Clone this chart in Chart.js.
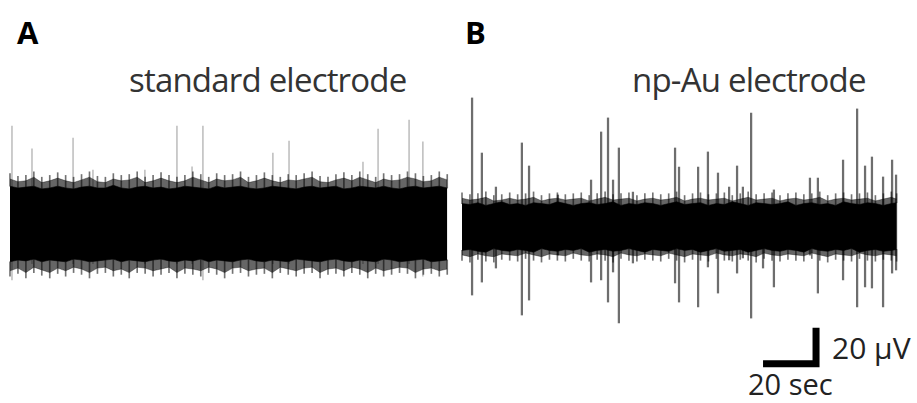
<!DOCTYPE html>
<html>
<head>
<meta charset="utf-8">
<script src="https://cdn.jsdelivr.net/npm/chart.js@4.4.0/dist/chart.umd.min.js"></script>
<style>
  body { margin: 0; background: #fff; width: 917px; height: 403px; overflow: hidden; position: relative; font-family: "Open Sans", sans-serif; }
  canvas { position: absolute; }
  .lbl { position: absolute; line-height: 1; white-space: nowrap; }
  .panel { font-weight: bold; font-size: 31px; color: #000; }
  .title { font-size: 33px; letter-spacing: -0.8px; color: #333; }
  .scale { font-size: 30px; color: #222; }
</style>
</head>
<body>
<div class="lbl panel" style="left:17px; top:17px;">A</div>
<div class="lbl panel" style="left:465px; top:17px;">B</div>
<div class="lbl title" style="left:129px; top:63px;">standard electrode</div>
<div class="lbl title" style="left:632px; top:63px;">np-Au electrode</div>
<div class="lbl scale" style="left:832px; top:333px;">20 µV</div>
<div class="lbl scale" style="left:748px; top:369px; font-size:29px;">20 sec</div>

<canvas id="chartA" width="458" height="300" style="left:0; top:80px;"></canvas>
<canvas id="chartB" width="459" height="300" style="left:458px; top:80px;"></canvas>

<script>
// Time samples (sec) for the noise envelope
var timesA = [0,3,6,9,12,15,18,21,24,27,30,33,36,39,42,45,48,51,54,57,60,63,66,69,72,75,78,81,84,87,90,93,96,99,102,105,108,111,114,117,120,123,126,129,132,135,138,141,144,147,150,153,156,159,162,165];
var timesB = [0,3,6,9,12,15,18,21,24,27,30,33,36,39,42,45,48,51,54,57,60,63,66,69,72,75,78,81,84,87,90,93,96,99,102,105,108,111,114,117,120,123,126,129,132,135,138,141,144,147,150,153,156,159,162,164];

// Panel A - standard electrode, noise band (uV)
var coreHiA = [21,20,20.5,21,19.5,20,21,20,19.5,20.5,21,20,20,21.5,20,19.5,20.5,21,20,20.5,19.5,20,21,20.5,20,19.5,21,20,20.5,21,20,19.5,20,21,20.5,20,19.5,20.5,21,20,20.5,21,19.5,20,21,20.5,20,21,20,19.5,20.5,21,20,20.5,21,20];
var coreLoA = [-21,-20,-20.5,-19.5,-21,-20,-20.5,-21,-19.5,-20,-21,-20.5,-20,-19.5,-21,-20,-20.5,-21,-20,-19.5,-20.5,-21,-20,-20.5,-19.5,-21,-20,-20.5,-21,-20,-19.5,-20.5,-21,-20,-20.5,-21,-19.5,-20,-20.5,-21,-20,-19.5,-20.5,-21,-20,-20.5,-21,-19.5,-20,-21,-20.5,-20,-19.5,-21,-20.5,-20];
var fuzzHiA = [25,23.5,24,26,23,24,25.5,24,23,24.5,26,23.5,23,25,24,24.5,26,23,24,25.5,24,23,24,26,24.5,23,25,24,24.5,26,23,24,25.5,24,23,24.5,24,25,26,23.5,23,24.5,25.5,24,26,24.5,23,25,24,24.5,26,25,23.5,24,26,24.5];
var fuzzLoA = [-26,-24.5,-27,-24,-25.5,-27,-24.5,-26,-24,-25,-27,-24.5,-24,-26,-25,-27,-24,-24.5,-26,-25,-24,-27,-24.5,-25,-26,-24,-25,-27,-24.5,-24,-26,-25,-24.5,-27,-24,-25,-26,-24.5,-24,-27,-25,-24.5,-26,-24,-25,-27,-24.5,-26,-25,-24,-24.5,-27,-25,-24.5,-26,-25];

// Panel A spikes
var spikeTA  = [0.75,8.3,23.8,31.3,50.9,63,68.7,72.8,99.2,105.3,133.2,138.9,150.6,155.8];
var spikeHiA = [54.4,41.7,47.8,30,30,54.4,31.7,54.4,39.4,46.1,34.4,52.8,57.8,45.6];
var spikeLoA = [-31,-22,-22,-22,-22,-22,-22,-31,-22,-22,-22,-22,-22,-29];

// Panel B - np-Au electrode, noise band (uV)
var coreHiB = [13,12.5,13.5,12,13,14,12.5,13,12,13.5,13,12.5,14,13,12,13,13.5,12.5,13,14,12,13,12.5,13.5,13,12,13,14,12.5,13,13.5,12,13,12.5,14,13,12,13.5,13,12.5,13,14,12,13,13.5,12.5,13,12,14,13,12.5,13.5,13,12,13,13.5];
var coreLoB = [-13,-12.5,-13.5,-14,-12,-13,-13.5,-12.5,-13,-14,-12,-13,-13.5,-12.5,-13,-12,-14,-13,-12.5,-13.5,-13,-12,-13,-14,-12.5,-13,-13.5,-12,-13,-12.5,-14,-13,-12,-13.5,-13,-12.5,-14,-13,-12,-13,-13.5,-12.5,-13,-14,-12,-13,-13.5,-12.5,-13,-12,-14,-13,-12.5,-13.5,-13,-12.5];
var fuzzHiB = [16,15,15.5,16.5,14.5,15,16,15,15.5,16.5,14.5,15.5,16,15,15.5,16,14.5,15.5,16.5,15,15.5,16,14.5,15.5,16,15,15.5,16.5,14.5,15.5,16,15,15.5,16,14.5,15.5,16.5,15,15.5,16,14.5,15.5,16,15,15.5,16.5,14.5,15.5,16,15,15.5,16,14.5,15.5,16.5,15.5];
var fuzzLoB = [-15.5,-16.5,-15,-16,-16.5,-15,-15.5,-16,-14.5,-15.5,-16.5,-15,-15.5,-16,-14.5,-15.5,-16,-15,-15.5,-16.5,-14.5,-15.5,-16,-15,-15.5,-16,-14.5,-15.5,-16.5,-15,-15.5,-16,-14.5,-15.5,-16,-15,-15.5,-16.5,-14.5,-15.5,-16,-15,-15.5,-16,-14.5,-15.5,-16.5,-15,-15.5,-16,-14.5,-15.5,-16,-15,-15.5,-16];

// Panel B spikes
var spikeTB  = [3.8,7.5,12.8,22.6,25.3,36.2,48.7,52.5,55.1,57.0,59.2,64.5,80.4,81.9,89.1,92.8,96.6,100.8,103.8,106.0,109.1,113.6,117.7,131.3,134.3,143.8,149.1,152.1,154.7,158.9,162.3,163.8];
var spikeHiB = [71.7,41.1,22.2,46.7,33.9,17.8,26.1,52.8,60.6,26.1,43.9,19.4,43.9,33.3,33.3,41.7,30,22.2,33.9,22.2,63.3,6.7,20.6,27.2,27.2,37.2,65.6,33.9,38.9,27.8,37.2,28.9];
var spikeLoB = [-37.8,-30.6,-22.8,-48.9,-40.6,-15.6,-30.6,-29.4,-41.7,-25,-53.3,-20,-31.1,-41.7,-44.4,-22.2,-36.7,-18.3,-25.6,-17.2,-50.6,-22.8,-33.3,-15.6,-36.7,-29.4,-44.4,-33.3,-33.9,-44.4,-25.6,-23.9];

// Scale bar: 20 sec x 20 uV (in panel B units)
var scaleBarX = [113.6, 133.6, 133.6];
var scaleBarY = [-76, -76, -56];

function pts(xs, ys) {
  return xs.map(function (x, i) { return { x: x, y: ys[i] }; });
}

function bandSet(xs, ys, color, order) {
  return {
    type: "line",
    data: pts(xs, ys),
    borderColor: color,
    backgroundColor: color,
    borderWidth: 0.6,
    pointRadius: 0,
    tension: 0,
    fill: "origin",
    order: order,
  };
}

// thin hairs from the core edge up to the fuzz tips
function hairSet(xs, from, to, order) {
  return {
    type: "bar",
    data: xs.map(function (x, i) { return { x: x, y: [from[i], to[i]] }; }),
    backgroundColor: "rgba(0,0,0,0.55)",
    borderWidth: 0,
    barThickness: 1,
    grouped: false,
    order: order,
  };
}

function makeChart(id, times, coreHi, coreLo, fuzzHi, fuzzLo, spT, spHi, spLo, spColor, spWidth, range, extra) {
  var datasets = [
    bandSet(times, coreHi, "#000", 1),
    bandSet(times, coreLo, "#000", 1),
    bandSet(times, fuzzHi, "rgba(0,0,0,0.6)", 2),
    bandSet(times, fuzzLo, "rgba(0,0,0,0.6)", 2),
    hairSet(times, coreHi, fuzzHi.map(function (v) { return v + 3; }), 3),
    hairSet(times, coreLo, fuzzLo.map(function (v) { return v - 3; }), 3),
    {
      type: "bar",
      data: spT.map(function (t, i) { return { x: t, y: [spLo[i], spHi[i]] }; }),
      backgroundColor: spColor,
      borderWidth: 0,
      barThickness: spWidth,
      grouped: false,
      order: 5,
    },
  ].concat(extra || []);

  return new Chart(document.getElementById(id).getContext("2d"), {
    type: "bar",
    data: { datasets: datasets },
    options: {
      responsive: false,
      animation: false,
      layout: { padding: 0 },
      plugins: { legend: { display: false }, tooltip: { enabled: false } },
      scales: {
        x: { type: "linear", display: false, offset: false, min: range[0], max: range[1] },
        y: { type: "linear", display: false, min: range[2], max: range[3] },
      },
    },
  });
}

makeChart("chartA", timesA, coreHiA, coreLoA, fuzzHiA, fuzzLoA,
  spikeTA, spikeHiA, spikeLoA, "#c2c2c2", 1, [-3.77, 169.06, -86.67, 80]);

makeChart("chartB", timesB, coreHiB, coreLoB, fuzzHiB, fuzzLoB,
  spikeTB, spikeHiB, spikeLoB, "#6e6e6e", 1.6, [-1.51, 171.7, -85, 81.67], [{
    type: "line",
    data: pts(scaleBarX, scaleBarY),
    borderColor: "#000",
    borderWidth: 7,
    borderJoinStyle: "miter",
    borderCapStyle: "butt",
    pointRadius: 0,
    fill: false,
    order: 0,
  }]);
</script>
</body>
</html>
